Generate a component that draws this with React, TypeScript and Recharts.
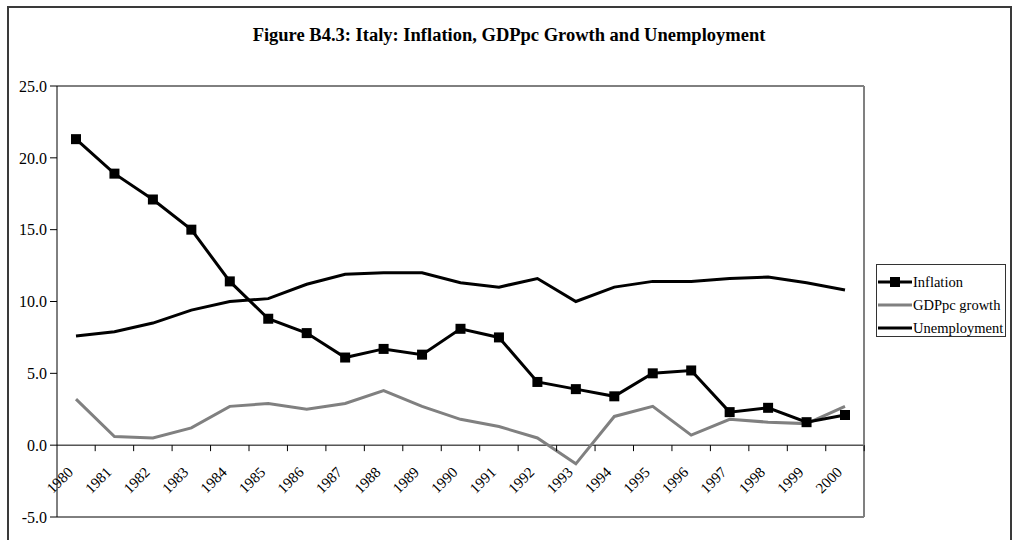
import { LineChart, Line, XAxis, YAxis, ReferenceLine } from "recharts";

const years = ["1980", "1981", "1982", "1983", "1984", "1985", "1986", "1987", "1988", "1989", "1990", "1991", "1992", "1993", "1994", "1995", "1996", "1997", "1998", "1999", "2000"];
const inflation = [21.3, 18.9, 17.1, 15.0, 11.4, 8.8, 7.8, 6.1, 6.7, 6.3, 8.1, 7.5, 4.4, 3.9, 3.4, 5.0, 5.2, 2.3, 2.6, 1.6, 2.1];
const gdppcGrowth = [3.2, 0.6, 0.5, 1.2, 2.7, 2.9, 2.5, 2.9, 3.8, 2.7, 1.8, 1.3, 0.5, -1.3, 2.0, 2.7, 0.7, 1.8, 1.6, 1.5, 2.7];
const unemployment = [7.6, 7.9, 8.5, 9.4, 10.0, 10.2, 11.2, 11.9, 12.0, 12.0, 11.3, 11.0, 11.6, 10.0, 11.0, 11.4, 11.4, 11.6, 11.7, 11.3, 10.8];
const yTicks = [-5, 0, 5, 10, 15, 20, 25];

const W = 1014;
const H = 540;
const margin = { top: 86, right: 149, bottom: 22, left: 7 };
const plotH = H - margin.top - margin.bottom - 1;
const font = "'Liberation Serif', 'Times New Roman', serif";

const data = years.map((year, i) => ({
  year,
  inflation: inflation[i],
  gdppc: gdppcGrowth[i],
  unemployment: unemployment[i],
}));

// x axis sits on the zero line, not on the plot bottom
function YearTick(props: any) {
  const { x, y, payload } = props;
  const zeroY = y - (plotH * (0 - yTicks[0])) / (yTicks[yTicks.length - 1] - yTicks[0]);
  const half = 19.2;
  const ax = x - 2;
  const ay = zeroY + 28;
  return (
    <g>
      <line x1={x + half} x2={x + half} y1={zeroY} y2={zeroY + 6} stroke="#000" />
      <text x={ax} y={ay} transform={`rotate(-45, ${ax}, ${ay})`} textAnchor="end" fontSize={15} fontFamily={font} fill="#000">
        {payload.value}
      </text>
    </g>
  );
}

function Square(props: any) {
  const { cx, cy, index } = props;
  return <rect key={`sq-${index}`} x={cx - 5} y={cy - 5} width={10} height={10} fill="#000" />;
}

const legendItems = [
  { name: "Inflation", color: "#000", marker: true },
  { name: "GDPpc growth", color: "#808080", marker: false },
  { name: "Unemployment", color: "#000", marker: false },
];

export default function App() {
  return (
    <div style={{ position: "absolute", left: 0, top: 0, width: W, height: H, overflow: "hidden", background: "#fff" }}>
      <div style={{ position: "absolute", left: 7, top: 6, width: 1001, height: 600, border: "2px solid #3a3a3a" }} />
      <div
        style={{
          position: "absolute",
          left: 0,
          top: 24,
          width: 1018,
          textAlign: "center",
          fontFamily: font,
          fontWeight: "bold",
          fontSize: 18.5,
          lineHeight: "22px",
          color: "#000",
          whiteSpace: "nowrap",
        }}
      >
        Figure B4.3: Italy: Inflation, GDPpc Growth and Unemployment
      </div>
      <div style={{ position: "absolute", left: 0, top: 0 }}>
        <LineChart width={W} height={H} data={data} margin={margin}>
          <XAxis
            dataKey="year"
            interval={0}
            padding={{ left: 19, right: 19 }}
            height={1}
            tickSize={0}
            tickMargin={0}
            tickLine={false}
            axisLine={{ stroke: "#000" }}
            tick={<YearTick />}
          />
          <YAxis
            width={50}
            domain={[-5, 25]}
            ticks={yTicks}
            interval={0}
            tickFormatter={(v: number) => v.toFixed(1)}
            tickSize={7}
            tickMargin={3}
            axisLine={{ stroke: "#000" }}
            tickLine={{ stroke: "#000" }}
            tick={{ fontSize: 16, fontFamily: font, fill: "#000" }}
          />
          <YAxis
            yAxisId="r"
            orientation="right"
            width={1}
            domain={[-5, 25]}
            tick={false}
            tickLine={false}
            axisLine={{ stroke: "#808080", strokeWidth: 2 }}
          />
          <ReferenceLine y={25} stroke="#000" />
          <ReferenceLine y={0} stroke="#000" />
          <Line dataKey="gdppc" stroke="#808080" strokeWidth={3} dot={false} isAnimationActive={false} />
          <Line dataKey="unemployment" stroke="#000" strokeWidth={3} dot={false} isAnimationActive={false} />
          <Line dataKey="inflation" stroke="#000" strokeWidth={3} dot={<Square />} isAnimationActive={false} />
        </LineChart>
      </div>
      <div
        style={{
          position: "absolute",
          left: 876,
          top: 264,
          width: 130,
          height: 73,
          boxSizing: "border-box",
          border: "1px solid #333",
          background: "#fff",
        }}
      >
        {legendItems.map((it, i) => (
          <div
            key={it.name}
            style={{
              position: "absolute",
              left: 1,
              top: 8 + 23 * i,
              height: 18,
              display: "flex",
              alignItems: "center",
              whiteSpace: "nowrap",
              fontFamily: font,
              fontSize: 14.5,
              color: "#000",
            }}
          >
            <svg width={35} height={12} style={{ display: "block" }}>
              <line x1={0} x2={34} y1={6} y2={6} stroke={it.color} strokeWidth={3} />
              {it.marker && <rect x={12} y={1} width={10} height={10} fill="#000" />}
            </svg>
            <span>{it.name}</span>
          </div>
        ))}
      </div>
    </div>
  );
}
